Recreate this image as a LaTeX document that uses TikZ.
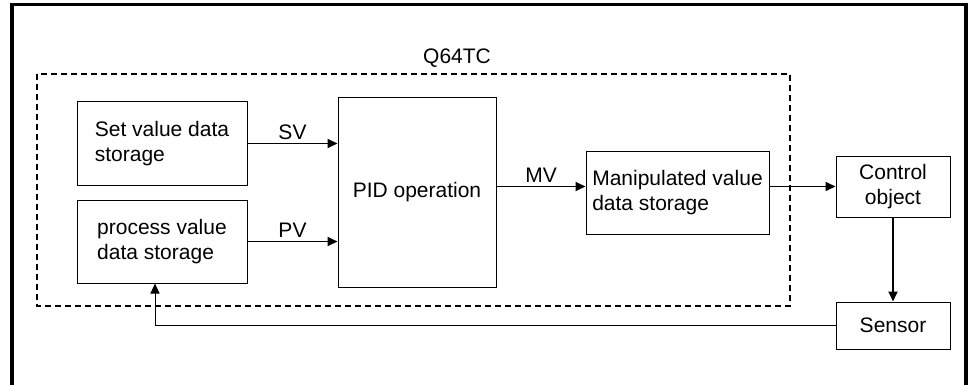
\documentclass[tikz,border=0pt]{standalone}
\usepackage{fontspec}
\setmainfont{Liberation Sans}
\usetikzlibrary{arrows.meta}

\tikzset{
box/.style={draw,line width=0.5pt,inner sep=0pt,align=left,font=\fontsize{10.5}{12.5}\selectfont},
flow/.style={->,line width=0.9pt},
lbl/.style={font=\fontsize{10.5}{12.5}\selectfont,inner sep=1.5pt}
}

\begin{document}
\begin{tikzpicture}[x=0.5pt,y=-0.5pt,>={Triangle[length=5pt,width=4.5pt]}]
\useasboundingbox (0,0) rectangle (974,385);
\draw[line width=1.6pt](12,385)--(12,4.5)--(966,4.5)--(966,385);
\draw[line width=0.9pt,dash pattern=on 3pt off 2pt](37,74)rectangle(790,306);
\node[lbl](q64)at(457,58){Q64TC};
\node[box,minimum width=85pt,minimum height=41.5pt](setv)at(162,143.5){Set value data\\storage};
\node[box,minimum width=85pt,minimum height=41.5pt](proc)at(162,241.5){process value\\data storage};
\node[box,minimum width=79pt,minimum height=94.5pt](pid)at(417,192.5){PID operation};
\node[box,minimum width=91.5pt,minimum height=41.5pt](manip)at(677.5,192.5){Manipulated value\\data storage};
\node[box,align=center,minimum width=57pt,minimum height=30.5pt](ctrl)at(893,186.5){Control\\object};
\node[box,minimum width=57pt,minimum height=23.5pt](sens)at(893,325.5){Sensor};
\draw[flow](setv.east)--(setv.east-|pid.west)node[lbl,midway,above]{SV};
\draw[flow](proc.east)--(proc.east-|pid.west)node[lbl,midway,above]{PV};
\draw[flow](pid.east|-ctrl)--(manip.west|-ctrl)node[lbl,midway,above]{MV};
\draw[flow](manip.east|-ctrl)--(ctrl.west);
\draw[flow](ctrl.south)--(sens.north);
\draw[->,line width=0.5pt](sens.west)-|([xshift=-3.5pt]proc.south);
\end{tikzpicture}
\end{document}
